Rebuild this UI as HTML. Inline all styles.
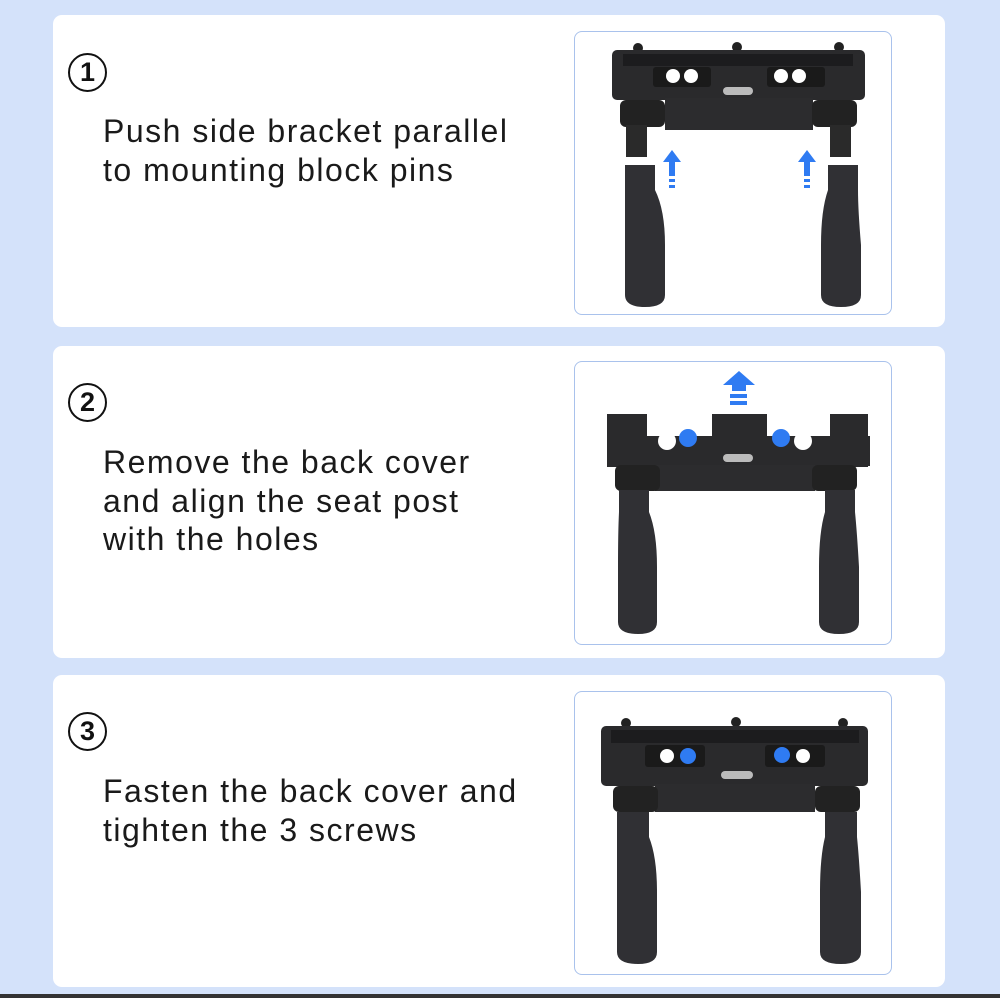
<!DOCTYPE html>
<html><head><meta charset="utf-8"><style>
html,body{margin:0;padding:0}
body{width:1000px;height:998px;background:#d4e2fa;position:relative;overflow:hidden;font-family:"Liberation Sans",sans-serif}
.card{position:absolute;left:53px;width:892px;height:312px;background:#fff;border-radius:9px}
.num{position:absolute;left:15px;width:35px;height:35px;border:2.5px solid #111;border-radius:50%;font-size:27px;font-weight:bold;text-align:center;line-height:35px;color:#111}
.txt{position:absolute;left:50px;font-size:32px;line-height:38.5px;color:#1a1a1a;letter-spacing:1.5px}
.box{position:absolute;left:521px;width:316px;height:282px;border:1px solid #a9c2ec;border-radius:8px;background:#fff;overflow:hidden}
.bot{position:absolute;left:0;top:994px;width:1000px;height:4px;background:#333}
</style></head><body>
<div class="card" style="top:15px">
 <div class="num" style="top:38px">1</div>
 <div class="txt" style="top:97px">Push side bracket parallel<br>to mounting block pins</div>
 <div class="box" style="top:16px">
 <svg width="316" height="282">
  <circle cx="63" cy="16" r="5" fill="#222"/><circle cx="162" cy="15" r="5" fill="#222"/><circle cx="264" cy="15" r="5" fill="#222"/>
  <rect x="37" y="18" width="253" height="50" rx="5" fill="#2a2a2c"/>
  <rect x="48" y="22" width="230" height="12" fill="#1c1c1e"/>
  <rect x="78" y="35" width="58" height="20" rx="3" fill="#1a1a1a"/><rect x="192" y="35" width="58" height="20" rx="3" fill="#1a1a1a"/>
  <circle cx="98" cy="44" r="7" fill="#fff"/><circle cx="116" cy="44" r="7" fill="#fff"/><circle cx="206" cy="44" r="7" fill="#fff"/><circle cx="224" cy="44" r="7" fill="#fff"/>
  <rect x="148" y="55" width="30" height="8" rx="4" fill="#bbb"/>
  <rect x="90" y="66" width="148" height="32" fill="#2c2c2e"/>
  <rect x="45" y="68" width="45" height="27" rx="6" fill="#222"/><rect x="237" y="68" width="45" height="27" rx="6" fill="#222"/>
  <rect x="51" y="93" width="21" height="32" fill="#2a2a2a"/><rect x="255" y="93" width="21" height="32" fill="#2a2a2a"/>
  <path d="M50 133 h30 v25 q10 20 10 55 v50 q0 12 -20 12 q-20 0 -20 -12 v-50 q0 -35 0 -55z" fill="#303034"/>
  <path d="M253 133 h30 v25 q0 20 3 55 v50 q0 12 -20 12 q-20 0 -20 -12 v-50 q0 -35 7 -55z" fill="#303034"/>
  <path d="M97 118 l9 12 h-6 v14 h-6 v-14 h-6z" fill="#2f7bf2"/><rect x="94" y="147" width="6" height="3" fill="#2f7bf2"/><rect x="94" y="153" width="6" height="3" fill="#2f7bf2"/>
  <path d="M232 118 l9 12 h-6 v14 h-6 v-14 h-6z" fill="#2f7bf2"/><rect x="229" y="147" width="6" height="3" fill="#2f7bf2"/><rect x="229" y="153" width="6" height="3" fill="#2f7bf2"/>
 </svg></div>
</div>
<div class="card" style="top:346px">
 <div class="num" style="top:37px">2</div>
 <div class="txt" style="top:97px">Remove the back cover<br>and align the seat post<br>with the holes</div>
 <div class="box" style="top:15px">
 <svg width="316" height="282">
  <path d="M164 9 l16 14 h-9 v6 h-14 v-6 h-9z" fill="#2f7bf2"/><rect x="155" y="32" width="17" height="4" fill="#2f7bf2"/><rect x="155" y="39" width="17" height="4" fill="#2f7bf2"/>
  <path d="M32 52 h40 v22 h65 v-22 h55 v22 h63 v-22 h38 v53 h-261z" fill="#2a2a2c"/>
  <rect x="72" y="74" width="223" height="30" fill="#2a2a2c"/>
  <circle cx="92" cy="79" r="9" fill="#fff"/><circle cx="113" cy="76" r="9" fill="#2f7bf2"/><circle cx="206" cy="76" r="9" fill="#2f7bf2"/><circle cx="228" cy="79" r="9" fill="#fff"/>
  <rect x="148" y="92" width="30" height="8" rx="4" fill="#bbb"/>
  <rect x="80" y="103" width="160" height="26" fill="#2c2c2e"/>
  <rect x="40" y="103" width="45" height="26" rx="6" fill="#222"/><rect x="237" y="103" width="45" height="26" rx="6" fill="#222"/>
  <path d="M44 128 h30 v22 q8 20 8 55 v55 q0 12 -19 12 q-20 0 -20 -12 v-55 q0 -35 1 -55z" fill="#303034"/>
  <path d="M250 128 h30 v22 q2 20 4 55 v55 q0 12 -20 12 q-20 0 -20 -12 v-55 q0 -35 6 -55z" fill="#303034"/>
 </svg></div>
</div>
<div class="card" style="top:675px">
 <div class="num" style="top:37px">3</div>
 <div class="txt" style="top:97px">Fasten the back cover and<br>tighten the 3 screws</div>
 <div class="box" style="top:16px">
 <svg width="316" height="282">
  <circle cx="51" cy="31" r="5" fill="#222"/><circle cx="161" cy="30" r="5" fill="#222"/><circle cx="268" cy="31" r="5" fill="#222"/>
  <rect x="26" y="34" width="267" height="60" rx="5" fill="#2a2a2c"/>
  <rect x="36" y="38" width="248" height="13" fill="#1c1c1e"/>
  <rect x="70" y="53" width="60" height="22" rx="3" fill="#1a1a1a"/><rect x="190" y="53" width="60" height="22" rx="3" fill="#1a1a1a"/>
  <circle cx="92" cy="64" r="7" fill="#fff"/><circle cx="113" cy="64" r="8" fill="#2f7bf2"/><circle cx="207" cy="63" r="8" fill="#2f7bf2"/><circle cx="228" cy="64" r="7" fill="#fff"/>
  <rect x="146" y="79" width="32" height="8" rx="4" fill="#bbb"/>
  <rect x="80" y="92" width="160" height="28" fill="#2c2c2e"/>
  <rect x="38" y="94" width="45" height="26" rx="6" fill="#222"/><rect x="240" y="94" width="45" height="26" rx="6" fill="#222"/>
  <path d="M42 120 h32 v25 q8 20 8 55 v60 q0 12 -19 12 q-21 0 -21 -12 v-60 q0 -35 0 -55z" fill="#303034"/>
  <path d="M250 120 h32 v25 q2 20 4 55 v60 q0 12 -20 12 q-21 0 -21 -12 v-60 q0 -35 5 -55z" fill="#303034"/>
 </svg></div>
</div>
<div class="bot"></div>
</body></html>
